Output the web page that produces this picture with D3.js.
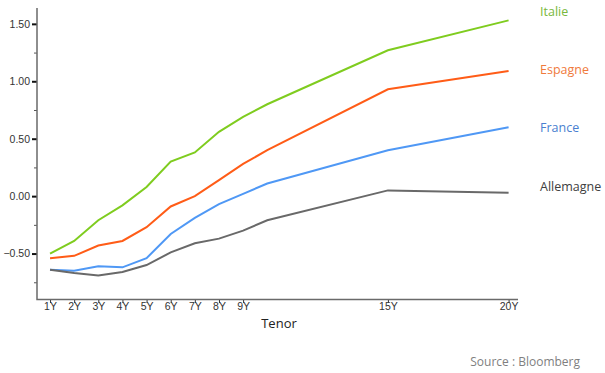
<!DOCTYPE html>
<html>
<head>
<meta charset="utf-8">
<script src="https://cdn.jsdelivr.net/npm/d3@7"></script>
<style>
  body { margin: 0; background: #fff; }
  svg { display: block; }
</style>
</head>
<body>
<div id="chart"></div>
<script>
// tenors in years, values in %
const tenors = [1, 2, 3, 4, 5, 6, 7, 8, 9, 10, 15, 20]
const tickTenors = [1, 2, 3, 4, 5, 6, 7, 8, 9, 15, 20]
const italie    = [-0.50, -0.39, -0.21, -0.08, 0.08, 0.30, 0.38, 0.56, 0.69, 0.80, 1.27, 1.53]
const espagne   = [-0.54, -0.52, -0.43, -0.39, -0.27, -0.09, 0.00, 0.14, 0.28, 0.40, 0.93, 1.09]
const france    = [-0.64, -0.65, -0.61, -0.62, -0.54, -0.33, -0.19, -0.07, 0.02, 0.11, 0.40, 0.60]
const allemagne = [-0.64, -0.67, -0.69, -0.66, -0.60, -0.49, -0.41, -0.37, -0.30, -0.21, 0.05, 0.03]
const majorTicks = [-0.5, 0, 0.5, 1.0, 1.5]
const minorTicks = [-0.75, -0.25, 0.25, 0.75, 1.25]

const series = [
  { name: 'Italie', values: italie, line: '#7fcc1f', text: '#78b83c' },
  { name: 'Espagne', values: espagne, line: '#ff5c17', text: '#f07a3c' },
  { name: 'France', values: france, line: '#4f98f5', text: '#4a7fd0' },
  { name: 'Allemagne', values: allemagne, line: '#696969', text: '#404040' }
]

const width = 605
const height = 373

const x = d3.scaleLinear().domain([0.46, 20.39]).range([37, 518])
const y = d3.scaleLinear().domain([-0.9, 1.638]).range([299.5, 8])

const svg = d3.select('#chart')
  .append('svg')
  .attr('width', width)
  .attr('height', height)

const tickFont = 'Liberation Sans, Arial, sans-serif'
const labelFont = 'Open Sans, Noto Sans, sans-serif'

// y axis
const yAxis = svg.append('g')
  .attr('transform', 'translate(37,0)')
  .call(d3.axisLeft(y).tickValues(majorTicks).tickSize(5).tickFormat(d3.format('.2f')))
yAxis.select('.domain').remove()
yAxis.selectAll('.tick line').attr('stroke', '#111').attr('stroke-width', 2)
yAxis.selectAll('.tick text')
  .attr('x', -7)
  .attr('fill', '#333')
  .style('font-family', tickFont)
  .style('font-size', '10.5px')

svg.append('g')
  .attr('transform', 'translate(37,0)')
  .call(d3.axisLeft(y).tickValues(minorTicks).tickSize(3).tickFormat(''))
  .call(g => g.select('.domain').remove())
  .selectAll('.tick line').attr('stroke', '#555')

// x axis
const xAxis = svg.append('g')
  .attr('transform', 'translate(0,300)')
  .call(d3.axisBottom(x).tickValues(tickTenors).tickSize(3).tickFormat(d => d + 'Y'))
xAxis.select('.domain').remove()
xAxis.selectAll('.tick line').attr('stroke', '#333')
xAxis.selectAll('.tick text')
  .attr('y', 3)
  .attr('fill', '#333')
  .style('font-family', tickFont)
  .style('font-size', '10.5px')

// axis lines
svg.append('path')
  .attr('d', `M${x.range()[0]},${y.range()[1]}V${y.range()[0]}H${x.range()[1]}`)
  .attr('fill', 'none')
  .attr('stroke', '#6a6a6a')
  .attr('stroke-width', 1.5)

// lines
const line = d3.line()
  .x((d, i) => x(tenors[i]))
  .y(d => y(d))

svg.append('g')
  .selectAll('path')
  .data(series)
  .join('path')
  .attr('d', d => line(d.values))
  .attr('fill', 'none')
  .attr('stroke', d => d.line)
  .attr('stroke-width', 2)

// series labels
const labelY = [12, 70, 128, 187]
svg.append('g')
  .selectAll('text')
  .data(series)
  .join('text')
  .attr('x', 540)
  .attr('y', (d, i) => labelY[i])
  .attr('dy', '0.35em')
  .attr('fill', d => d.text)
  .style('font-family', labelFont)
  .style('font-size', '12.5px')
  .text(d => d.name)

svg.append('text')
  .attr('x', 279)
  .attr('y', 323)
  .attr('dy', '0.35em')
  .attr('text-anchor', 'middle')
  .attr('fill', '#222')
  .style('font-family', labelFont)
  .style('font-size', '13px')
  .text('Tenor')

svg.append('text')
  .attr('x', 580)
  .attr('y', 362)
  .attr('dy', '0.35em')
  .attr('text-anchor', 'end')
  .attr('fill', '#7f7f7f')
  .style('font-family', labelFont)
  .style('font-size', '12px')
  .text('Source : Bloomberg')
</script>
</body>
</html>
